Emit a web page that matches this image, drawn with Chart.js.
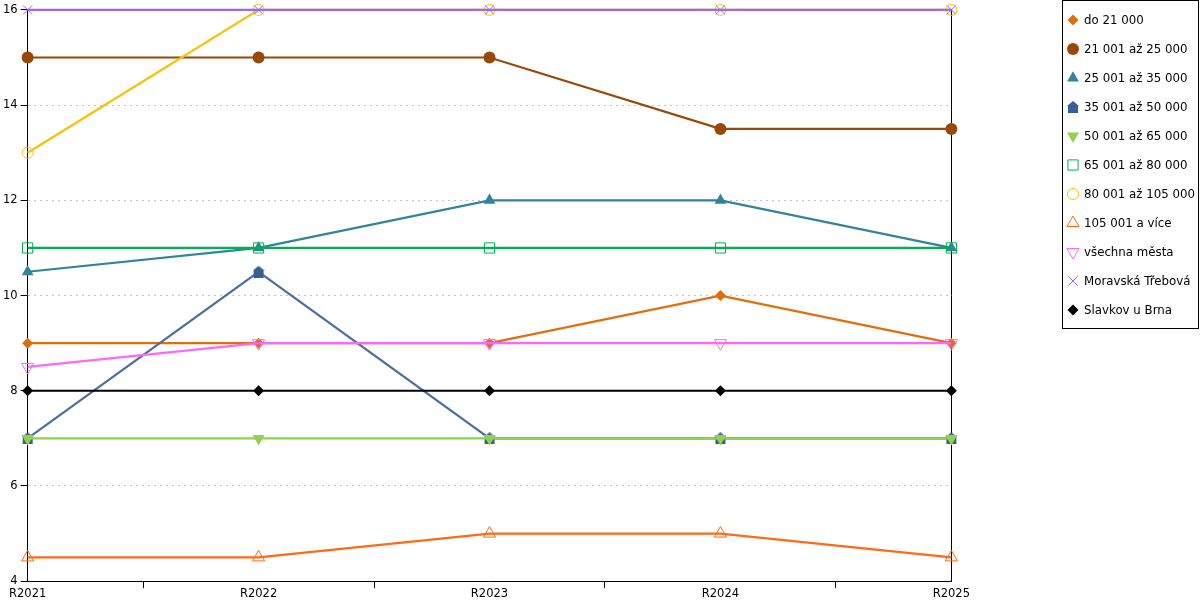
<!DOCTYPE html>
<html>
<head>
<meta charset="utf-8">
<script src="https://cdn.jsdelivr.net/npm/chart.js@4.4.1/dist/chart.umd.min.js"></script>
<style>
    body { margin: 0; background: #fff; font-family: 'DejaVu Sans', sans-serif; }
    #wrap { position: relative; width: 1200px; height: 600px; overflow: hidden; }
    #plot { position: absolute; left: 0; top: 0; width: 969px; height: 600px; }
    #legend {
        position: absolute; left: 1062px; top: 0; width: 137px; height: 329px;
        border: 1px solid #000; box-sizing: border-box; padding-top: 4px;
    }
    .leg-item { display: flex; align-items: center; height: 29px; font-size: 11.8px; color: #000; }
    .leg-item canvas { margin-left: 2px; margin-right: 3px; }
</style>
</head>
<body>
<div id="wrap">
    <div id="plot"><canvas id="chart"></canvas></div>
    <div id="legend"></div>
</div>
<script>
// categories and series
const years = ['R2021', 'R2022', 'R2023', 'R2024', 'R2025'];
const seriesNames = [
    'do 21 000',
    '21 001 až 25 000',
    '25 001 až 35 000',
    '35 001 až 50 000',
    '50 001 až 65 000',
    '65 001 až 80 000',
    '80 001 až 105 000',
    '105 001 a více',
    'všechna města',
    'Moravská Třebová',
    'Slavkov u Brna',
];
const do21 = [9, 9, 9, 10, 9];
const do25 = [15, 15, 15, 13.5, 13.5];
const do35 = [10.5, 11, 12, 12, 11];
const do50 = [7, 10.5, 7, 7, 7];
const do65 = [7, 7, 7, 7, 7];
const do80 = [11, 11, 11, 11, 11];
const do105 = [13, 16, 16, 16, 16];
const nad105 = [4.5, 4.5, 5, 5, 4.5];
const vsechnaMesta = [8.5, 9, 9, 9, 9];
const moravskaTrebova = [16, 16, 16, 16, 16];
const slavkov = [8, 8, 8, 8, 8];
const yTicks = [4, 6, 8, 10, 12, 14, 16];

// "house" marker (triangle roof on a square)
function houseMarker(color) {
    const c = document.createElement('canvas');
    c.width = 12;
    c.height = 12;
    const g = c.getContext('2d');
    g.fillStyle = color;
    g.beginPath();
    g.moveTo(6, 0);
    g.lineTo(12, 5);
    g.lineTo(11, 5);
    g.lineTo(11, 12);
    g.lineTo(1, 12);
    g.lineTo(1, 5);
    g.lineTo(0, 5);
    g.closePath();
    g.fill();
    return c;
}

const none = 'rgba(0,0,0,0)';
const styles = [
    { color: '#e46c0a', pointStyle: 'rectRot', radius: 5.5, fill: true },
    { color: '#984807', pointStyle: 'circle', radius: 6, fill: true },
    { color: '#31849b', pointStyle: 'triangle', radius: 6.8, fill: true },
    { color: '#376092', pointStyle: houseMarker('#376092'), radius: 6, fill: true, lineColor: '#4a6f9e' },
    { color: '#92d050', pointStyle: 'triangle', radius: 7, fill: true, rotation: 180 },
    { color: '#00b050', pointStyle: 'rect', radius: 7.2, fill: false },
    { color: '#ffc000', pointStyle: 'circle', radius: 5.5, fill: false },
    { color: '#ff6a13', pointStyle: 'triangle', radius: 7, fill: false },
    { color: '#ff66ff', pointStyle: 'triangle', radius: 7, fill: false, rotation: 180 },
    { color: '#9966ff', pointStyle: 'crossRot', radius: 6.5, fill: false },
    { color: '#000000', pointStyle: 'rectRot', radius: 5.5, fill: true },
];
const seriesData = [do21, do25, do35, do50, do65, do80, do105, nad105, vsechnaMesta, moravskaTrebova, slavkov];

const datasets = seriesData.map((data, i) => {
    const s = styles[i];
    return {
        label: seriesNames[i],
        data: data,
        borderColor: s.lineColor || s.color,
        backgroundColor: s.color,
        borderWidth: 2.2,
        tension: 0,
        clip: false,
        pointStyle: s.pointStyle,
        pointRadius: s.radius,
        pointHoverRadius: s.radius,
        pointRotation: s.rotation || 0,
        pointBackgroundColor: s.fill ? s.color : none,
        pointBorderColor: s.color,
        pointBorderWidth: s.fill ? 0 : 1,
        order: seriesData.length - i, // later series on top
        yAxisID: 'y',
    };
});

Chart.defaults.font.family = "'DejaVu Sans', sans-serif";
Chart.defaults.color = '#000';

new Chart(document.getElementById('chart'), {
    type: 'line',
    data: { labels: years, datasets: datasets },
    options: {
        responsive: true,
        maintainAspectRatio: false,
        animation: false,
        layout: { padding: { top: 5, right: 0, left: 0, bottom: 0 } },
        plugins: { legend: { display: false }, tooltip: { enabled: false } },
        scales: {
            x: {
                offset: false,
                ticks: { font: { size: 11.5 }, padding: -1, maxRotation: 0 },
                grid: {
                    offset: true,
                    drawOnChartArea: false,
                    tickLength: 7,
                    tickColor: '#000',
                },
                border: { color: '#000', width: 1 },
            },
            y: {
                min: 4,
                max: 16,
                afterBuildTicks: (axis) => {
                    axis.ticks = yTicks.map((v) => ({ value: v }));
                },
                ticks: { font: { size: 11.5 }, padding: 3 },
                grid: {
                    color: '#c4c4c4',
                    tickColor: '#000',
                    tickLength: 7,
                    tickBorderDash: [],
                },
                border: { color: '#000', width: 1, dash: [2, 4] },
            },
            yRight: {
                position: 'right',
                min: 4,
                max: 16,
                ticks: { display: false },
                grid: { display: false, drawTicks: false },
                border: { color: '#000', width: 1 },
            },
        },
    },
});

// legend
const legend = document.getElementById('legend');
datasets.forEach((ds, i) => {
    const s = styles[i];
    const item = document.createElement('div');
    item.className = 'leg-item';
    const c = document.createElement('canvas');
    c.width = 16;
    c.height = 16;
    const g = c.getContext('2d');
    g.fillStyle = ds.pointBackgroundColor;
    g.strokeStyle = ds.pointBorderColor;
    g.lineWidth = ds.pointBorderWidth || 1;
    Chart.helpers.drawPoint(g, {
        pointStyle: s.pointStyle,
        rotation: s.rotation || 0,
        radius: s.radius,
        borderWidth: ds.pointBorderWidth,
    }, 8, 8);
    item.appendChild(c);
    const t = document.createElement('span');
    t.textContent = ds.label;
    item.appendChild(t);
    legend.appendChild(item);
});
</script>
</body>
</html>
